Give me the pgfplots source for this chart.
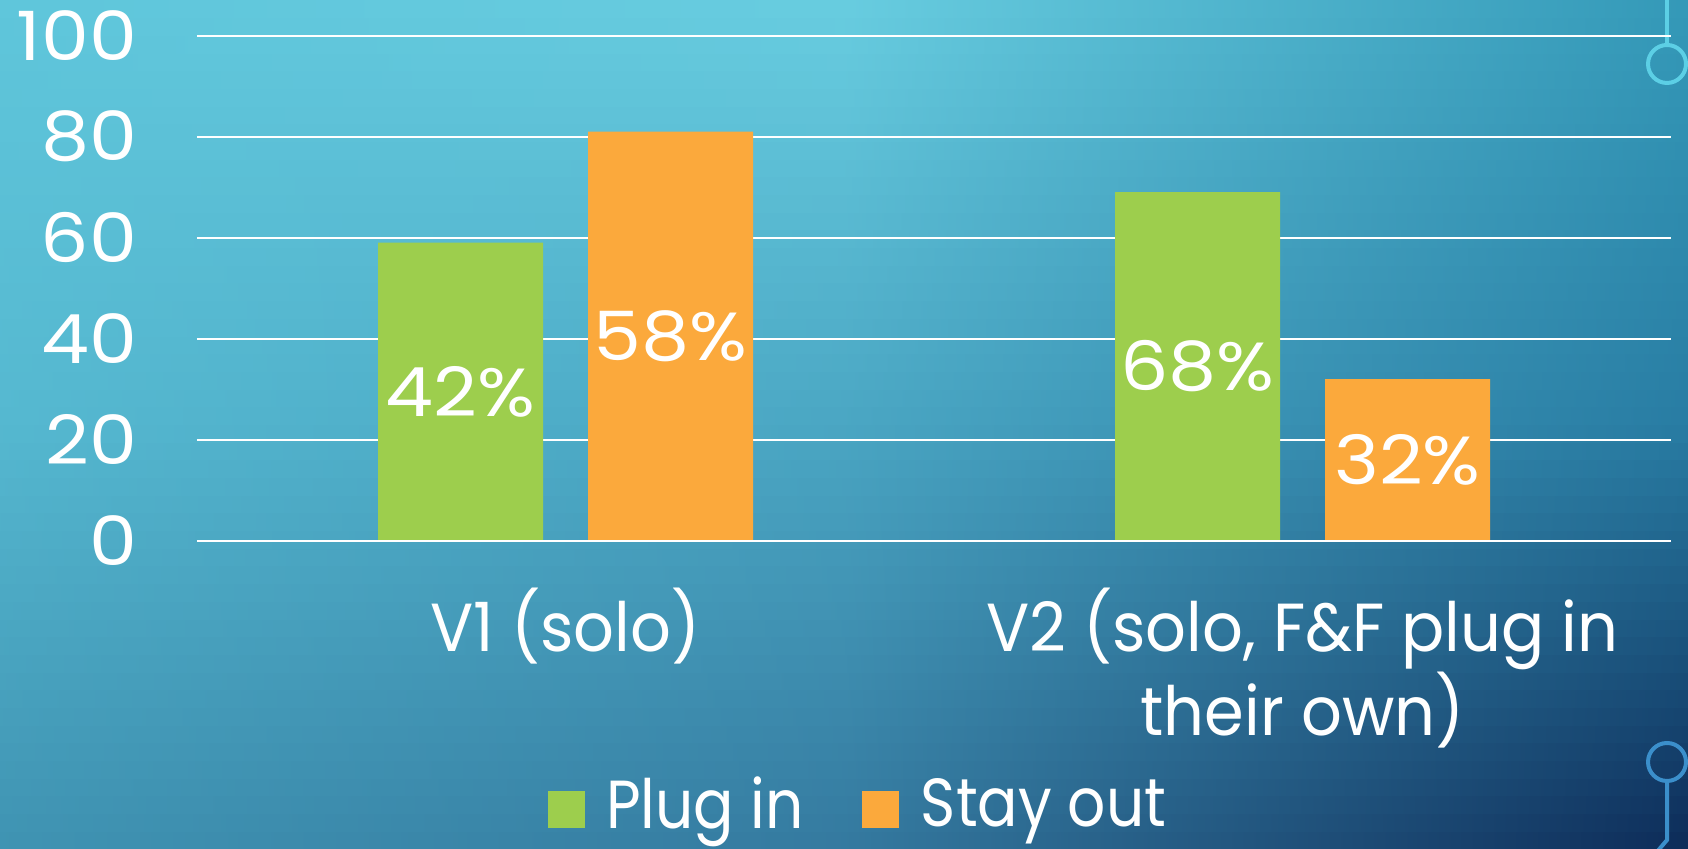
\documentclass[border=0pt]{standalone}
\usepackage{fontspec}
\setmainfont{Poppins}
\newfontfamily\numf{Poppins}[FakeStretch=1.12]
\newfontfamily\legf{Poppins}[FakeStretch=0.88]
\newfontfamily\labf{Poppins}[FakeStretch=0.94]
\usepackage{pgfplots}
\pgfplotsset{compat=1.18}
\definecolor{pgreen}{RGB}{157,206,77}
\definecolor{porange}{RGB}{251,169,60}
\definecolor{TL}{HTML}{5FC6DB}
\definecolor{TM}{HTML}{68CDE0}
\definecolor{TR}{HTML}{3499B8}
\definecolor{ML}{HTML}{55B8D0}
\definecolor{MM}{HTML}{4AA6C3}
\definecolor{MR}{HTML}{287CA3}
\definecolor{BL}{HTML}{3F93B2}
\definecolor{BM}{HTML}{34799F}
\definecolor{BR}{HTML}{0D2B58}
\definecolor{decoA}{HTML}{5CCFE5}
\definecolor{decoB}{HTML}{3B8FCB}
\newcommand\bigf{\fontsize{34}{38}\selectfont}
\begin{document}
\begin{tikzpicture}
\useasboundingbox (0,0) rectangle (844pt,424.5pt);
\begin{scope}
\clip (0,0) rectangle (844pt,424.5pt);
\foreach \i in {0,...,47}{
  \pgfmathsetmacro\ya{\i*8.84375}
  \pgfmathsetmacro\yb{\ya+9.4}
  \pgfmathsetmacro\f{(\i+0.5)/48}
  \ifdim \f pt<0.5pt
    \pgfmathsetmacro\p{\f*200}
    \colorlet{cL}{ML!\p!BL}\colorlet{cM}{MM!\p!BM}\colorlet{cR}{MR!\p!BR}
  \else
    \pgfmathsetmacro\p{(\f-0.5)*200}
    \colorlet{cL}{TL!\p!ML}\colorlet{cM}{TM!\p!MM}\colorlet{cR}{TR!\p!MR}
  \fi
  \shade[left color=cL, right color=cR, middle color=cM] (0pt,\ya pt) rectangle (844pt,\yb pt);
}
\end{scope}
% decorations
\draw[decoA, line width=2pt] (833.5pt,430pt) -- (833.5pt,402pt);
\draw[decoA, line width=2pt] (833.5pt,392.5pt) circle (9.5pt);
\draw[decoB, line width=2pt] (833.5pt,43.5pt) circle (9.5pt);
\draw[decoB, line width=2pt] (833.5pt,34pt) -- (833.5pt,4.5pt) -- (828pt,-2pt);
\begin{axis}[
  at={(98.5pt,154.15pt)}, anchor=south west,
  scale only axis, width=737pt, height=252.5pt,
  xmin=-0.5, xmax=1.5, ymin=0, ymax=100,
  ybar=22.5pt, bar width=82.5pt,
  axis line style={draw=none},
  major tick style={draw=none},
  ytick={0,20,...,100},
  xtick={0,1},
  xticklabels={V1 (solo), {V2 (solo, F\&F plug in\\their own)}},
  ymajorgrids, grid style={white, line width=1pt},
  tick label style={text=white},
  /pgf/number format/assume math mode=true,
  yticklabel style={font=\numf\bigf, inner sep=0pt, anchor=east, xshift=-29.8pt},
  xticklabel style={font=\labf\bigf, align=center, inner sep=0pt, anchor=north, yshift=-19pt},
  point meta=explicit symbolic,
  visualization depends on={rawy \as \rawy},
  legend style={at={(0.4478,-0.521)}, anchor=center, draw=none, fill=none,
    font=\legf\bigf, text=white, legend columns=2, nodes={inner sep=0pt},
    /tikz/every odd column/.append style={column sep=10.75pt}},
  legend image code/.code={\fill[#1] (0pt,-11.9pt) rectangle (18.5pt,6.6pt);},
]
\addplot[fill=pgreen, draw=none, nodes near coords,
  nodes near coords style={font=\numf\bigf, text=white, anchor=center, shift={(axis direction cs:0,-\rawy/2)}}]
  coordinates {(0,59) [42\%] (1,69) [68\%]};
\addplot[fill=porange, draw=none, nodes near coords,
  nodes near coords style={font=\numf\bigf, text=white, anchor=center, shift={(axis direction cs:0,-\rawy/2)}}]
  coordinates {(0,81) [58\%] (1,32) [32\%]};
\legend{Plug in\hspace*{29.5pt}, Stay out}
\addplot[sharp plot, white, line width=1pt, forget plot, point meta=none] coordinates {(-0.5,0) (1.5,0)};
\end{axis}
\end{tikzpicture}
\end{document}
